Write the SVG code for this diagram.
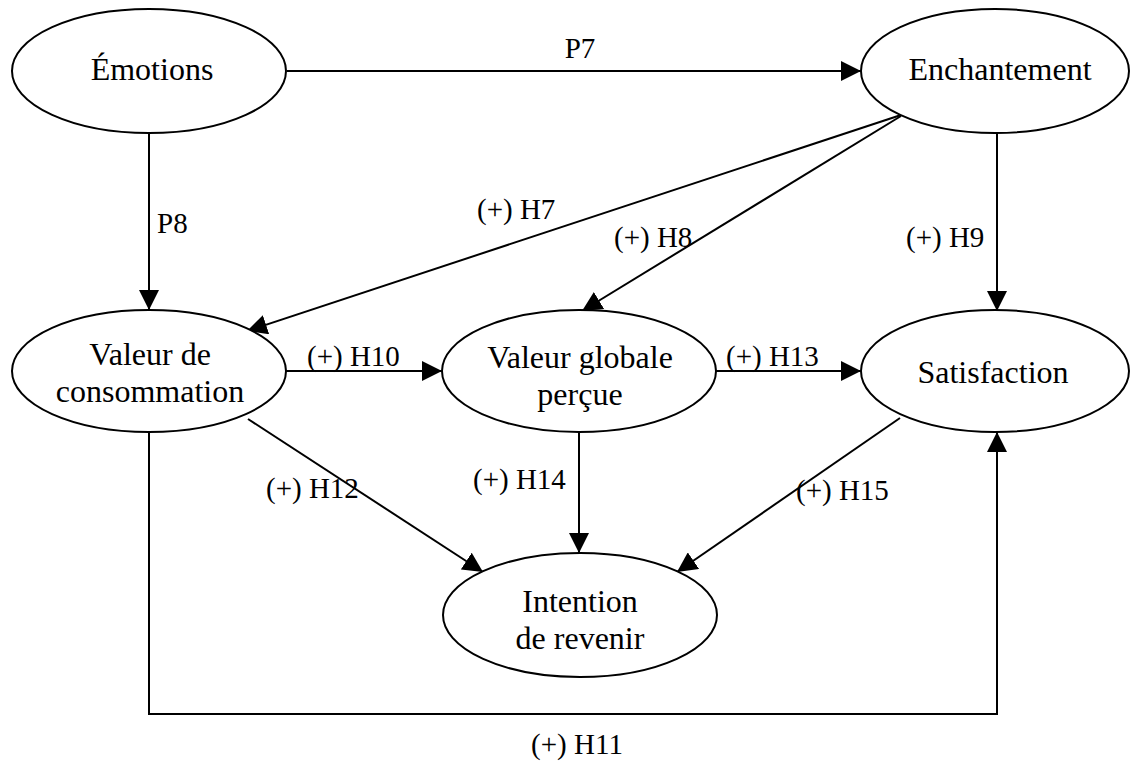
<svg xmlns="http://www.w3.org/2000/svg" width="1130" height="765" viewBox="0 0 1130 765">
<defs>
<marker id="arr" markerUnits="userSpaceOnUse" markerWidth="22" markerHeight="20" refX="20" refY="10" orient="auto">
<path d="M0,0 L20,10 L0,20 Z" fill="#000"/>
</marker>
<style>
.n ellipse{fill:#fff;stroke:#000;stroke-width:2}
.n text{font-family:"Liberation Serif","Times New Roman",serif;font-size:32px;text-anchor:middle;fill:#000}
.c line,.c polyline{stroke:#000;stroke-width:2;fill:none;marker-end:url(#arr)}
.lbl{font-family:"Liberation Serif","Times New Roman",serif;font-size:29px;fill:#000}
</style>
</defs>
<rect width="1130" height="765" fill="#fff"/>
<g class="c" id="connectors">
<line x1="287" y1="71" x2="861" y2="71"/>
<line x1="149" y1="133" x2="149" y2="310"/>
<line x1="901" y1="115" x2="247" y2="331"/>
<line x1="901" y1="116" x2="582" y2="311"/>
<line x1="997" y1="133" x2="997" y2="311"/>
<line x1="286" y1="371" x2="442" y2="371"/>
<line x1="716" y1="371" x2="861" y2="371"/>
<line x1="248" y1="419" x2="483" y2="572"/>
<line x1="579" y1="432" x2="579" y2="553"/>
<line x1="900" y1="418" x2="677" y2="572"/>
<polyline points="149,432 149,714 997,714 997,432"/>
</g>
<g class="labels">
<text class="lbl" x="580" y="58" text-anchor="middle">P7</text>
<text class="lbl" x="157" y="233">P8</text>
<text class="lbl" x="477" y="219">(+) H7</text>
<text class="lbl" x="614" y="247">(+) H8</text>
<text class="lbl" x="906" y="247">(+) H9</text>
<text class="lbl" x="307" y="366">(+) H10</text>
<text class="lbl" x="726" y="366">(+) H13</text>
<text class="lbl" x="266" y="498">(+) H12</text>
<text class="lbl" x="473" y="489">(+) H14</text>
<text class="lbl" x="796" y="500">(+) H15</text>
<text class="lbl" x="577" y="754" text-anchor="middle">(+) H11</text>
</g>
<g class="n" id="emotions"><ellipse cx="149" cy="71" rx="137" ry="62"/><text x="152" y="80">Émotions</text></g>
<g class="n" id="enchantement"><ellipse cx="995" cy="71" rx="134" ry="62"/><text x="1000" y="80">Enchantement</text></g>
<g class="n" id="valeur-consommation"><ellipse cx="149" cy="371" rx="137" ry="61"/><text x="150" y="365">Valeur de</text><text x="150" y="402">consommation</text></g>
<g class="n" id="valeur-globale"><ellipse cx="579" cy="371" rx="137" ry="61"/><text x="580" y="368">Valeur globale</text><text x="580" y="405">perçue</text></g>
<g class="n" id="satisfaction"><ellipse cx="995" cy="371" rx="134" ry="61"/><text x="993" y="383">Satisfaction</text></g>
<g class="n" id="intention"><ellipse cx="580" cy="615" rx="137" ry="62"/><text x="580" y="612">Intention</text><text x="580" y="649">de revenir</text></g>
</svg>
